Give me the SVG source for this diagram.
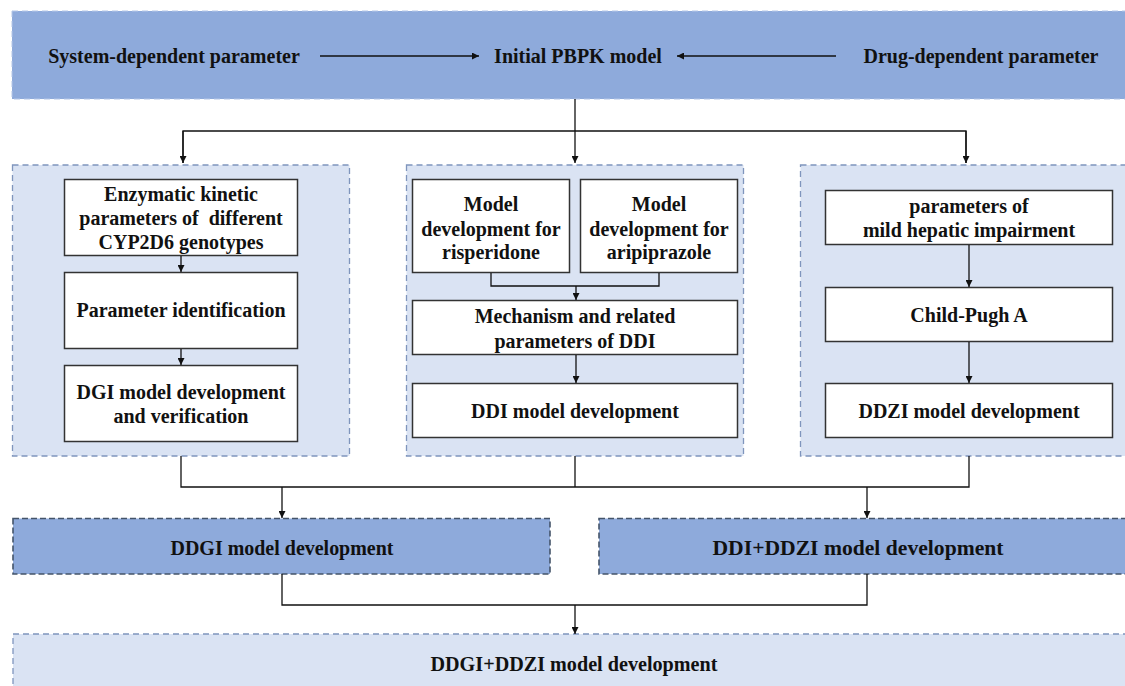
<svg xmlns="http://www.w3.org/2000/svg" width="1125" height="686" viewBox="0 0 1125 686">
<defs>
<style>
text{font-family:'Liberation Serif','DejaVu Serif',serif;font-weight:bold;fill:#111;text-anchor:middle}
.t{font-size:20px}
.tb{font-size:21px}
.banner{fill:#8eaadb;stroke:#b4c6e7;stroke-width:1;stroke-dasharray:6 4}
.panel{fill:#dae3f3;stroke:#7f95bd;stroke-width:1.3;stroke-dasharray:6 4}
.dark{fill:#8eaadb;stroke:#44546a;stroke-width:1.6;stroke-dasharray:6 3}
.box{fill:#fff;stroke:#333;stroke-width:1.5}
.c{fill:none;stroke:#111;stroke-width:1.3}
</style>
<marker id="ah" viewBox="0 0 10 10" refX="10" refY="5" markerWidth="7" markerHeight="7" markerUnits="userSpaceOnUse" orient="auto">
<path d="M0,0 L10,5 L0,10 z" fill="#111"/>
</marker>
</defs>
<rect width="1125" height="686" fill="#fff"/>

<g id="banner">
<rect class="banner" x="12" y="11" width="1120" height="88"/>
</g>
<g id="system-param"><text class="t" x="174" y="63" font-family="Liberation Serif, serif">System-dependent parameter</text></g>
<g id="initial-pbpk"><text class="t" x="578" y="63" font-family="Liberation Serif, serif">Initial PBPK model</text></g>
<g id="drug-param"><text class="t" x="981" y="63" font-family="Liberation Serif, serif">Drug-dependent parameter</text></g>

<g id="panel-left">
<rect class="panel" x="12.5" y="165" width="337" height="291"/>
</g>
<g id="panel-mid">
<rect class="panel" x="406.5" y="165" width="337" height="291"/>
</g>
<g id="panel-right">
<rect class="panel" x="800.5" y="165" width="330" height="291"/>
</g>

<g id="enzymatic">
<rect class="box" x="64.5" y="179.5" width="233" height="76"/>
<text class="t" x="181" y="201">Enzymatic kinetic</text>
<text class="t" x="181" y="225" xml:space="preserve">parameters of  different</text>
<text class="t" x="181" y="249">CYP2D6 genotypes</text>
</g>
<g id="param-ident">
<rect class="box" x="64.5" y="272.5" width="233" height="76"/>
<text class="t" x="181" y="317">Parameter identification</text>
</g>
<g id="dgi">
<rect class="box" x="64.5" y="365.5" width="233" height="76"/>
<text class="t" x="181" y="399">DGI model development</text>
<text class="t" x="181" y="423">and verification</text>
</g>

<g id="risperidone">
<rect class="box" x="412.5" y="179.5" width="157" height="93"/>
<text class="t" x="491" y="211">Model</text>
<text class="t" x="491" y="236">development for</text>
<text class="t" x="491" y="259">risperidone</text>
</g>
<g id="aripiprazole">
<rect class="box" x="580.5" y="179.5" width="157" height="93"/>
<text class="t" x="659" y="211">Model</text>
<text class="t" x="659" y="236">development for</text>
<text class="t" x="659" y="259">aripiprazole</text>
</g>
<g id="mechanism">
<rect class="box" x="412.5" y="300.5" width="325" height="54"/>
<text class="t" x="575" y="323">Mechanism and related</text>
<text class="t" x="575" y="348">parameters of DDI</text>
</g>
<g id="ddi">
<rect class="box" x="412.5" y="383.5" width="325" height="54"/>
<text class="t" x="575" y="418">DDI model development</text>
</g>

<g id="hepatic">
<rect class="box" x="825.5" y="190.5" width="287" height="54"/>
<text class="t" x="969" y="213">parameters of</text>
<text class="t" x="969" y="237">mild hepatic impairment</text>
</g>
<g id="child-pugh">
<rect class="box" x="825.5" y="287.5" width="287" height="54"/>
<text class="t" x="969" y="322">Child-Pugh A</text>
</g>
<g id="ddzi">
<rect class="box" x="825.5" y="383.5" width="287" height="54"/>
<text class="t" x="969" y="418">DDZI model development</text>
</g>

<g id="ddgi">
<rect class="dark" x="13" y="518.5" width="537" height="55.5"/>
<text class="tb" x="282" y="555" textLength="223" lengthAdjust="spacingAndGlyphs">DDGI model development</text>
</g>
<g id="ddi-ddzi">
<rect class="dark" x="599" y="518.5" width="535" height="55.5"/>
<text class="tb" x="858" y="555" textLength="291" lengthAdjust="spacingAndGlyphs">DDI+DDZI model development</text>
</g>
<g id="ddgi-ddzi">
<rect class="panel" x="13" y="634" width="1120" height="60"/>
<text class="tb" x="574" y="671" textLength="287" lengthAdjust="spacingAndGlyphs">DDGI+DDZI model development</text>
</g>

<g id="connectors">
<line class="c" x1="320" y1="56" x2="479" y2="56" marker-end="url(#ah)"/>
<line class="c" x1="836" y1="56" x2="677" y2="56" marker-end="url(#ah)"/>
<line class="c" x1="575" y1="99" x2="575" y2="163" marker-end="url(#ah)"/>
<polyline class="c" points="183,163 183,131 966,131 966,163"/>
<line class="c" x1="183" y1="131" x2="183" y2="163" marker-end="url(#ah)"/>
<line class="c" x1="966" y1="131" x2="966" y2="163" marker-end="url(#ah)"/>
<line class="c" x1="181" y1="256" x2="181" y2="272" marker-end="url(#ah)"/>
<line class="c" x1="181" y1="349" x2="181" y2="365" marker-end="url(#ah)"/>
<polyline class="c" points="491,273 491,286 659,286 659,273"/>
<line class="c" x1="576" y1="286" x2="576" y2="300" marker-end="url(#ah)"/>
<line class="c" x1="576" y1="355" x2="576" y2="383" marker-end="url(#ah)"/>
<line class="c" x1="969" y1="245" x2="969" y2="287" marker-end="url(#ah)"/>
<line class="c" x1="969" y1="342" x2="969" y2="383" marker-end="url(#ah)"/>
<polyline class="c" points="181,456 181,487 969,487 969,456"/>
<line class="c" x1="575" y1="456" x2="575" y2="487"/>
<line class="c" x1="282" y1="487" x2="282" y2="518" marker-end="url(#ah)"/>
<line class="c" x1="867" y1="487" x2="867" y2="518" marker-end="url(#ah)"/>
<polyline class="c" points="282,574 282,605 867,605 867,574"/>
<line class="c" x1="575" y1="605" x2="575" y2="634" marker-end="url(#ah)"/>
</g>
</svg>
